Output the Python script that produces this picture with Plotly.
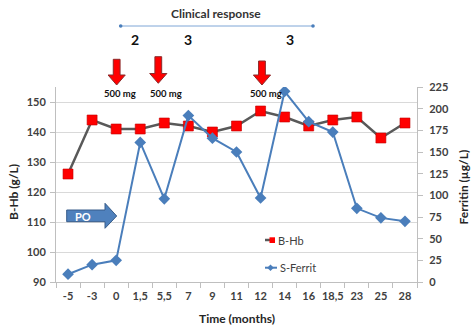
import plotly.graph_objects as go

# Observation times (months) and measured values
time_labels = ["-5", "-3", "0", "1,5", "5,5", "7", "9", "11", "12", "14",
               "16", "18,5", "23", "25", "28"]
hb_values = [126, 144, 141, 141, 143, 142, 140, 142, 147, 145, 142, 144, 145, 138, 143]
ferritin_values = [9, 20, 25, 161, 96, 192, 166, 150, 97, 220, 185, 173, 85, 74, 70]

# Iron infusions (500 mg each) and clinical response scores
dose_months = ["0", "5,5", "12"]
dose_labels = ["500 mg", "500 mg", "500 mg"]
response_scores = ["2", "3", "3"]

W, H = 476, 333
ML, MR, MT, MB = 56, 59, 87, 51
PW, PH = W - ML - MR, H - MT - MB
FONT = "Lato"
GRID = "#d9d9d9"
AXIS = "#bfbfbf"
TICKC = "#404040"


def px(xp):
    return (xp - ML) / PW


def py(yp):
    return (H - MB - yp) / PH


def label(xp, yp, text, size, color, xanchor="center", angle=0):
    return dict(x=px(xp), y=py(yp), xref="paper", yref="paper", text=text,
                showarrow=False, xanchor=xanchor, yanchor="middle",
                textangle=angle, font=dict(family=FONT, size=size, color=color))


fig = go.Figure()

fig.add_trace(go.Scatter(
    x=time_labels, y=hb_values, name="B-Hb", mode="lines+markers",
    line=dict(color="#595959", width=2.5),
    marker=dict(symbol="square", size=10, color="#ff0000",
                line=dict(color="#c00000", width=0.6)),
    showlegend=False,
))
fig.add_trace(go.Scatter(
    x=time_labels, y=ferritin_values, name="S-Ferrit", mode="lines+markers",
    yaxis="y2",
    line=dict(color="#4a7ebb", width=2),
    marker=dict(symbol="diamond", size=9, color="#4a7ebb"),
    showlegend=False,
))

shapes = []
annotations = []

# Red infusion arrows above the plot, anchored to their month
arrow_geom = [(0.5, 59.3, 75, 85), (-6, 56.7, 73.5, 83.3), (1.4, 61, 75, 85)]
for month, (dx, top, neck, tip) in zip(dose_months, arrow_geom):
    sw, hw = 3.4, 8.6
    path = (f"M {dx - sw},{py(top)} L {dx + sw},{py(top)} L {dx + sw},{py(neck)} "
            f"L {dx + hw},{py(neck)} L {dx},{py(tip)} L {dx - hw},{py(neck)} "
            f"L {dx - sw},{py(neck)} Z")
    shapes.append(dict(type="path", xref="x", yref="paper", xsizemode="pixel",
                       xanchor=time_labels.index(month), path=path,
                       fillcolor="#ff0000", line=dict(color="#8b2a2a", width=1)))

label_x = [120, 166, 266]
for lab, xp in zip(dose_labels, label_x):
    annotations.append(label(xp, 93.5, f"<b>{lab}</b>", 9.5, "#111111"))

# Clinical response bracket and scores
shapes.append(dict(type="line", xref="paper", yref="paper",
                   x0=px(120.7), x1=px(313), y0=py(26), y1=py(26),
                   line=dict(color="#7ea6d6", width=1)))
for xe in (120.7, 313):
    shapes.append(dict(type="circle", xref="paper", yref="paper",
                       x0=px(xe - 1.8), x1=px(xe + 1.8), y0=py(27.8), y1=py(24.2),
                       fillcolor="#4a7ebb", line=dict(width=0)))
annotations.append(label(216, 13, "<b>Clinical response</b>", 12, "#333333"))
for s, xp in zip(response_scores, [135, 187.7, 290]):
    annotations.append(label(xp, 39.5, f"<b>{s}</b>", 14, "#111111"))

# Oral iron period (PO) block arrow
po = (f"M {px(66.7)},{py(210)} L {px(105)},{py(210)} L {px(105)},{py(203.3)} "
      f"L {px(116.7)},{py(216)} L {px(105)},{py(228.3)} L {px(105)},{py(221.7)} "
      f"L {px(66.7)},{py(221.7)} Z")
shapes.append(dict(type="path", xref="paper", yref="paper", path=po,
                   fillcolor="#4f81bd", line=dict(color="#385d8a", width=1)))
annotations.append(label(83, 216, "<b>PO</b>", 11, "#ffffff"))

# Legend drawn inside the plot
shapes.append(dict(type="line", xref="paper", yref="paper",
                   x0=px(265), x1=px(275), y0=py(240), y1=py(240),
                   line=dict(color="#595959", width=2.5)))
shapes.append(dict(type="rect", xref="paper", yref="paper",
                   x0=px(269.5), x1=px(275), y0=py(243), y1=py(237.3),
                   fillcolor="#ff0000", line=dict(width=0)))
shapes.append(dict(type="line", xref="paper", yref="paper",
                   x0=px(265), x1=px(277), y0=py(267.7), y1=py(267.7),
                   line=dict(color="#4a7ebb", width=2)))
dc, dy, r = 270.5, 267.7, 3.3
shapes.append(dict(type="path", xref="paper", yref="paper",
                   path=(f"M {px(dc)},{py(dy - r)} L {px(dc + r)},{py(dy)} "
                         f"L {px(dc)},{py(dy + r)} L {px(dc - r)},{py(dy)} Z"),
                   fillcolor="#4a7ebb", line=dict(width=0)))
annotations.append(label(275.5, 240, "B-Hb", 11, "#404040", xanchor="left"))
annotations.append(label(277.5, 267.7, "S-Ferrit", 11, "#404040", xanchor="left"))

# Axis titles
annotations.append(label(13, 192, "<b>B-Hb (g/L)</b>", 12, "#262626", angle=-90))
annotations.append(label(462.5, 187, "<b>Ferritin (µg/L)</b>", 12, "#262626", angle=-90))
annotations.append(label(236.5, 318, "<b>Time (months)</b>", 12, "#262626"))

tickfont = dict(family=FONT, size=11, color=TICKC, weight="bold")

fig.update_layout(
    width=W, height=H,
    margin=dict(l=ML, r=MR, t=MT, b=MB, pad=0),
    paper_bgcolor="white", plot_bgcolor="white",
    shapes=shapes, annotations=annotations,
    xaxis=dict(type="category", range=[-0.5, len(time_labels) - 0.5],
               tickson="boundaries", ticks="outside", ticklen=5, tickangle=0,
               tickcolor=AXIS, showline=True, linecolor=AXIS, linewidth=1,
               showgrid=False, tickfont=tickfont, ticklabelstandoff=4,
               fixedrange=True),
    yaxis=dict(range=[90, 155], tickvals=[90, 100, 110, 120, 130, 140, 150],
               ticks="outside", ticklen=5, tickcolor=AXIS,
               showline=True, linecolor=AXIS, linewidth=1,
               showgrid=True, gridcolor=GRID, gridwidth=1,
               zeroline=False, tickfont=tickfont, ticklabelstandoff=2),
    yaxis2=dict(range=[0, 225], tickvals=list(range(0, 226, 25)),
                overlaying="y", side="right",
                ticks="outside", ticklen=5, tickcolor=AXIS,
                showline=True, linecolor=AXIS, linewidth=1,
                showgrid=False, zeroline=False, tickfont=tickfont,
                ticklabelstandoff=4),
)

fig.write_html("out.html")
